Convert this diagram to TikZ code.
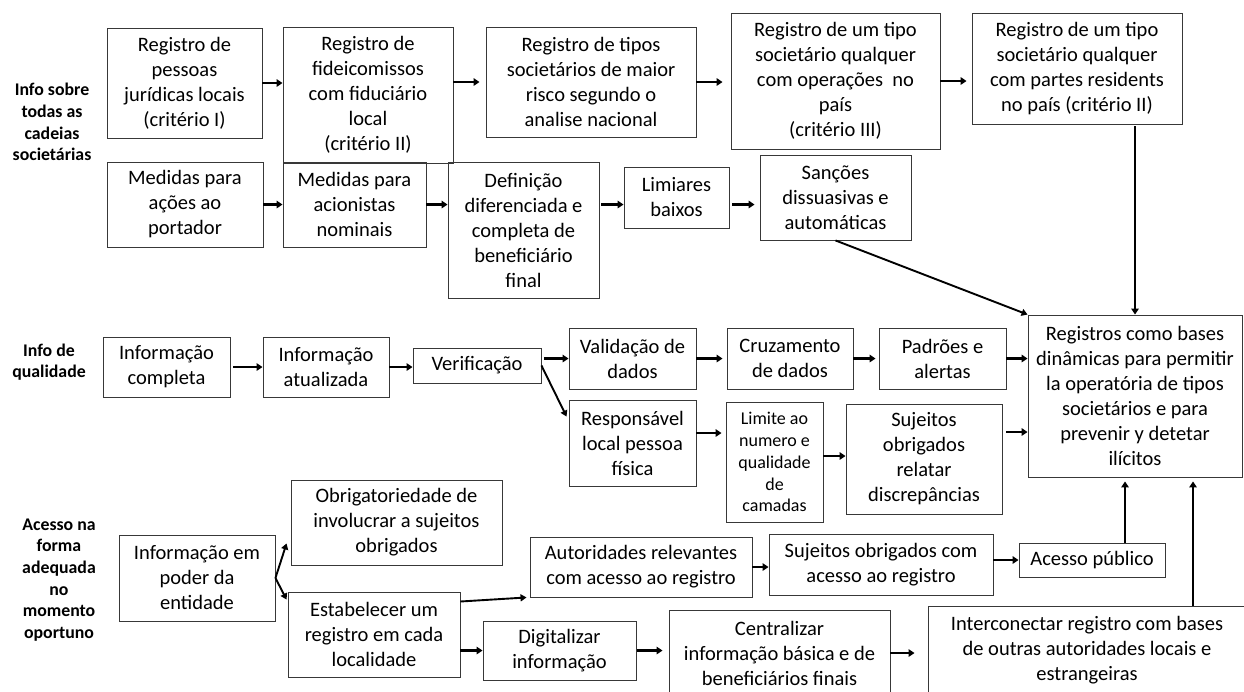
\documentclass[tikz,border=0pt]{standalone}
\usepackage{fontspec}
\setmainfont{Carlito}
\usetikzlibrary{arrows.meta,calc}

\tikzset{
  bx/.style={draw=black!78, line width=0.9pt, align=center, inner sep=1pt,
             font=\fontsize{20.5}{25}\selectfont},
  small/.style={font=\fontsize{18}{21.9}\selectfont},
  lbl/.style={align=center, inner sep=0pt, font=\fontsize{17.8}{21.7}\selectfont\bfseries},
  arr/.style={line width=2.4pt, -{Triangle[length=6pt,width=7.5pt]}},
  arrthin/.style={line width=1.9pt, -{Triangle[length=6pt,width=7pt]}}
}

% \pbox[options]{name}{x1}{y1}{x2}{y2}{text}
\newcommand\pbox[7][]{%
  \node[bx,#1,minimum width={(#5-#3)*1pt},minimum height={(#6-#4)*1pt}]
    (#2) at ({(#3+#5)/2},{(#4+#6)/2}) {#7};}

\begin{document}
\begin{tikzpicture}[x=1pt,y=-1pt]
\fill[white] (0,0) rectangle (1244,691);
\useasboundingbox (0,0) rectangle (1244,691);

% row labels
\node[lbl] (l1) at (52,122) {Info sobre\\todas as\\cadeias\\societárias};
\node[lbl] (l2) at (49,362) {Info de\\qualidade};
\node[lbl] (l3) at (59,580) {Acesso na\\forma\\adequada\\no\\momento\\oportuno};

% first row: registers
\pbox{b1}{107}{28}{262}{138}{Registro de\\pessoas\\jurídicas locais\\(critério I)}
\pbox{b2}{283}{27}{453}{163}{Registro de\\fideicomissos\\com fiduciário\\local\\(critério II)}
\pbox{b3}{486}{27}{696}{137}{Registro de tipos\\societários de maior\\risco segundo o\\analise nacional}
\pbox{b4}{731}{13}{940}{149}{Registro de um tipo\\societário qualquer\\com operações~ no\\país\\(critério III)}
\pbox{b5}{972}{13}{1182}{124}{Registro de um tipo\\societário qualquer\\com partes residents\\no país (critério II)}

% second row: measures
\pbox{c1}{107}{162}{263}{247}{Medidas para\\ações ao\\portador}
\pbox{c2}{283}{162}{426}{247}{Medidas para\\acionistas\\nominais}
\pbox{c3}{448}{162}{599}{298}{Definição\\diferenciada e\\completa de\\beneficiário\\final}
\pbox{c4}{624}{167}{729}{228}{Limiares\\baixos}
\pbox{c5}{760}{155}{911}{240}{Sanções\\dissuasivas e\\automáticas}

% quality
\pbox{q1}{103}{337}{230}{397}{Informação\\completa}
\pbox{q2}{263}{337}{389}{397}{Informação\\atualizada}
\pbox{q3}{413}{348}{541}{383}{Verificação}
\pbox{v1}{569}{328}{696}{389}{Validação de\\dados}
\pbox{v2}{727}{328}{853}{389}{Cruzamento\\de dados}
\pbox{v3}{879}{328}{1006}{389}{Padrões e\\alertas}
\pbox{r1}{569}{400}{696}{486}{Responsável\\local pessoa\\física}
\pbox[small]{r2}{726}{402}{823}{522}{Limite ao\\numero e\\qualidade\\de\\camadas}
\pbox{r3}{846}{404}{1002}{514}{Sujeitos\\obrigados\\relatar\\discrepâncias}

% central register
\pbox{big}{1028}{315}{1242}{477}{Registros como bases\\dinâmicas para permitir\\la operatória de tipos\\societários e para\\prevenir y detetar\\ilícitos}

% access
\pbox{a1}{119}{535}{275}{621}{Informação em\\poder da\\entidade}
\pbox{a2}{291}{480}{502}{565}{Obrigatoriedade de\\involucrar a sujeitos\\obrigados}
\pbox{a3}{288}{592}{460}{677}{Estabelecer um\\registro em cada\\localidade}
\pbox{a4}{530}{537}{752}{597}{Autoridades relevantes\\com acesso ao registro}
\pbox{a5}{483}{621}{636}{680}{Digitalizar\\informação}
\pbox{a6}{769}{534}{993}{595}{Sujeitos obrigados com\\acesso ao registro}
\pbox{a7}{669}{610}{890}{696}{Centralizar\\informação básica e de\\beneficiários finais}
\pbox{a8}{1019}{543}{1165}{577}{Acesso público}
\pbox{a9}{928}{606}{1246}{694}{Interconectar registro com bases\\de outras autoridades locais e\\estrangeiras}

% connectors, first row
\draw[arr] (b1.east) -- (b1.east -| b2.west);
\draw[arr, shorten >=6pt] (b2.east |- b3.west) -- (b3.west);
\draw[arr, shorten >=8pt] (b3.east) -- (b3.east -| b4.west);
\draw[arr, shorten >=5pt] (b4.east) -- (b4.east -| b5.west);
\draw[arr, shorten <=2pt] (big.north |- b5.south) -- (big.north);

% connectors, second row
\draw[arr] (c1.east) -- (c1.east -| c2.west);
\draw[arr] (c2.east) -- (c2.east -| c3.west);
\draw[arr, shorten <=2pt] (c3.east |- c2.east) -- (c4.west |- c2.east);
\draw[arr, shorten <=3pt, shorten >=5pt] (c4.east |- c2.east) -- (c5.west |- c2.east);
\draw[arrthin] (c5.south) -- (big.north west);

% connectors, quality
\draw[arr, shorten <=3pt] (q1.east) -- (q2.west);
\draw[arr] (q2.east) -- (q2.east -| q3.west);
\draw[arr, shorten <=3pt] (q3.east |- v1.west) -- (v1.west);
\draw[arrthin] (q3.east) -- ([xshift=-2pt,yshift=-17pt]r1.north west);
\draw[arr, shorten >=4pt] (v1.east) -- (v1.east -| v2.west);
\draw[arr, shorten >=3pt] (v2.east) -- (v2.east -| v3.west);
\draw[arr] (v3.east) -- (v3.east -| big.west);
\draw[arr, shorten >=4pt] ([yshift=10pt]r1.east) -- ([yshift=10pt]r1.east -| r2.west);
\draw[arr] ([yshift=6pt]r2.east) -- ([yshift=6pt]r2.east -| r3.west);
\draw[arr, shorten <=4pt] ([yshift=27pt]r3.east) -- ([yshift=27pt]r3.east -| big.west);

% connectors, access
\draw[arrthin] (a1.east) -- ([xshift=-4pt,yshift=22pt]a2.south west);
\draw[arrthin] (a1.east) -- ([xshift=-1pt,yshift=-8pt]a3.north west);
\draw[arrthin] ([yshift=33pt]a3.east) -- ([xshift=-3pt]a4.south west);
\draw[arr] (a3.east |- a5.west) -- (a5.west);
\draw[arr, shorten <=1pt, shorten >=6pt] (a5.east) -- (a5.east -| a7.west);
\draw[arr] (a4.east) -- (a4.east -| a6.west);
\draw[arr] (a6.east |- a8.west) -- (a8.west);
\draw[arr, shorten >=13pt] (a7.east) -- (a7.east -| a9.west);
\draw[arr, shorten >=4pt] ([xshift=33pt]a8.north) -- ([xshift=33pt]a8.north |- big.south);
\draw[arr, shorten >=4pt] ([xshift=106pt]a9.north) -- ([xshift=106pt]a9.north |- big.south);
\end{tikzpicture}
\end{document}
